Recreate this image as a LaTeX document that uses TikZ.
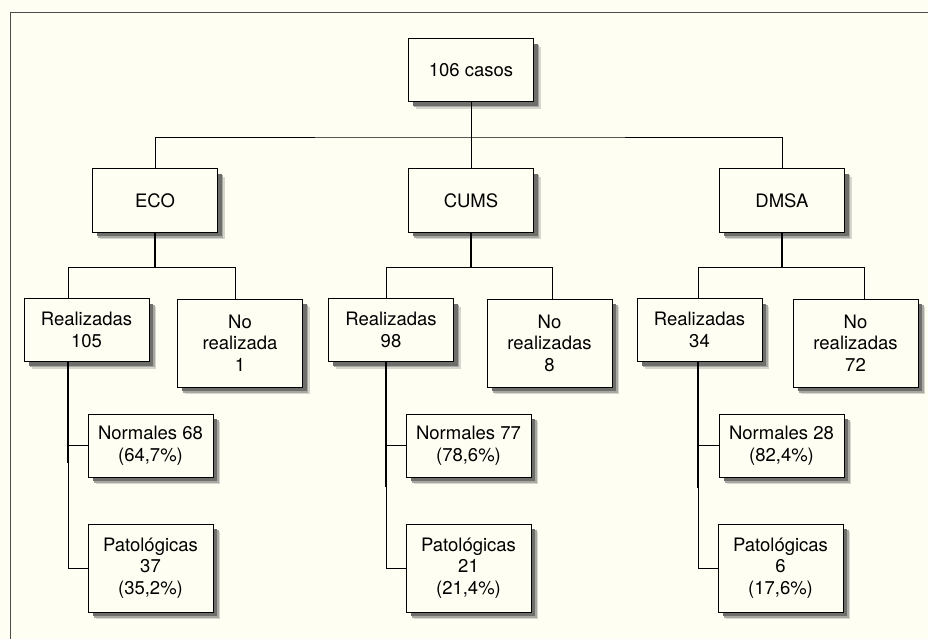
\documentclass[tikz,border=0pt]{standalone}
\usepackage{fontspec}
\setmainfont{TeX Gyre Heros}
\definecolor{bgc}{HTML}{FEFEF3}
\definecolor{sh1}{HTML}{D6D6CE}
\definecolor{sh2}{HTML}{A8A8A2}
\definecolor{sh3}{HTML}{6E6E6A}
\begin{document}
\begin{tikzpicture}[x=1pt,y=-1pt,
  box/.style={draw=black, line width=1pt, fill=bgc, minimum width=125pt,
    minimum height=63pt, inner sep=0pt, align=center,
    font=\fontsize{18.5}{21.5}\selectfont},
  tall/.style={box, minimum height=88pt},
  link/.style={line width=0.8pt},
  heavy/.style={line width=2.3pt},
  shade1/.style={fill=sh1},
  shade2/.style={fill=sh2},
  shade3/.style={fill=sh3}]
\useasboundingbox (0,0) rectangle (928,639);
\fill[bgc] (0,0) rectangle (928,639);
\draw[black!70, line width=0.9pt] (10,639) -- (10,12) -- (928,12);

% shadows (drawn first, by position)
\foreach \x/\y/\h in {471/70.5/63, 155/200.5/63, 471/200.5/63, 782/200.5/63,
  86.5/330/63, 240/343/88, 150.5/445.5/63, 150.5/568/88,
  391/330/63, 549.5/343/88, 468.5/445.5/63, 468.5/568/88,
  699.5/330/63, 855.5/343/88, 781.5/445.5/63, 780.5/568/88}{
  \fill[shade1] (\x-55,\y-\h/2+8) rectangle (\x+62.5+7,\y+\h/2+7);
  \fill[shade2] (\x-57,\y-\h/2+6) rectangle (\x+62.5+5.5,\y+\h/2+5.5);
  \fill[shade3] (\x-58,\y-\h/2+5) rectangle (\x+62.5+4,\y+\h/2+4);
}

% top level
\node[box] (top) at (471,70.5) {106 casos};
\node[box] (eco) at (155,200.5) {ECO};
\node[box] (cums) at (471,200.5) {CUMS};
\node[box] (dmsa) at (782,200.5) {DMSA};
\coordinate (bus) at (471,137);
\draw[link] (top.south) -- (cums.north);
\draw[link] (eco.north) |- (bus) -| (dmsa.north);

% ECO group
\node[box] (re) at (86.5,330) {Realizadas\\105};
\node[tall] (ne) at (240,343) {No\\realizada\\1};
\node[box] (nme) at (150.5,445.5) {Normales 68\\(64,7\%)};
\node[tall] (pe) at (150.5,568) {Patológicas\\37\\(35,2\%)};
\coordinate (be) at (155,267);
\coordinate (se) at (68,267);
\coordinate (ce) at (235,267);
\coordinate (te) at (68,463);
\draw[link] (re.north -| se) -- (se) -- (ce) -- (ne.north -| ce);
\draw[heavy] (eco.south) -- (be);
\draw[link] (re.south -| se) |- (pe.west);
\draw[heavy] (re.south -| se) -- (te);
\draw[link] (se |- nme.west) -- (nme.west);

% CUMS group
\node[box] (rc) at (391,330) {Realizadas\\98};
\node[tall] (nc) at (549.5,343) {No\\realizadas\\8};
\node[box] (nmc) at (468.5,445.5) {Normales 77\\(78,6\%)};
\node[tall] (pc) at (468.5,568) {Patológicas\\21\\(21,4\%)};
\coordinate (bc) at (471,267);
\coordinate (sc) at (386,267);
\coordinate (cc) at (552,267);
\coordinate (tc) at (386,487);
\draw[link] (rc.north -| sc) -- (sc) -- (cc) -- (nc.north -| cc);
\draw[heavy] (cums.south) -- (bc);
\draw[link] (rc.south -| sc) |- (pc.west);
\draw[heavy] (rc.south -| sc) -- (tc);
\draw[link] (sc |- nmc.west) -- (nmc.west);

% DMSA group
\node[box] (rd) at (699.5,330) {Realizadas\\34};
\node[tall] (nd) at (855.5,343) {No\\realizadas\\72};
\node[box] (nmd) at (781.5,445.5) {Normales 28\\(82,4\%)};
\node[tall] (pd) at (780.5,568) {Patológicas\\6\\(17,6\%)};
\coordinate (bd) at (782,267);
\coordinate (sd) at (698,267);
\coordinate (cd) at (864,267);
\coordinate (td) at (698,488);
\draw[link] (rd.north -| sd) -- (sd) -- (cd) -- (nd.north -| cd);
\draw[heavy] (dmsa.south) -- (bd);
\draw[link] (rd.south -| sd) |- (pd.west);
\draw[heavy] (rd.south -| sd) -- (td);
\draw[link] (sd |- nmd.west) -- (nmd.west);
\end{tikzpicture}
\end{document}
